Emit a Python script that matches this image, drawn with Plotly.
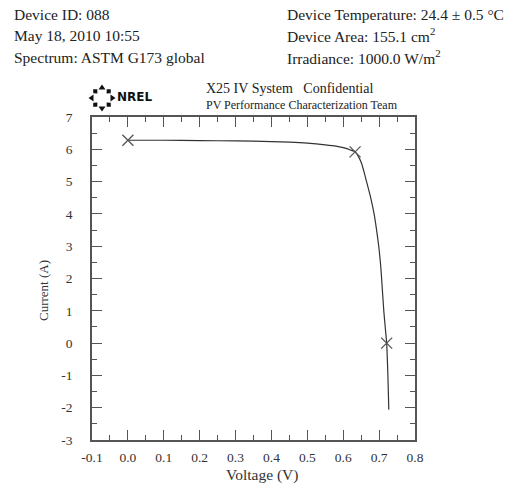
import math
import plotly.graph_objects as go

# ---- data ----
voltage = [0.000, 0.100, 0.200, 0.300, 0.400, 0.450, 0.500, 0.550, 0.580, 0.600,
           0.620, 0.633, 0.645, 0.651, 0.658, 0.665, 0.676, 0.686, 0.693, 0.699,
           0.704, 0.707, 0.713, 0.717, 0.721, 0.7245, 0.727]
current = [6.28, 6.28, 6.27, 6.26, 6.24, 6.22, 6.19, 6.14, 6.10, 6.05,
           5.98, 5.92, 5.72, 5.57, 5.30, 5.00, 4.53, 4.00, 3.50, 3.00,
           2.45, 2.00, 1.00, 0.50, 0.00, -1.00, -2.06]
key_v = [0.000, 0.633, 0.721]   # Isc, Pmax, Voc
key_i = [6.28, 5.92, 0.00]

x_ticks = [-0.1, 0.0, 0.1, 0.2, 0.3, 0.4, 0.5, 0.6, 0.7, 0.8]
y_ticks = [-3, -2, -1, 0, 1, 2, 3, 4, 5, 6, 7]
x_labels = [f"{v:.1f}" for v in x_ticks]
y_labels = [f"{v:d}" for v in y_ticks]

header_left = ["Device ID: 088", "May 18, 2010 10:55", "Spectrum: ASTM G173 global"]
header_right = ["Device Temperature: 24.4 \u00b1 0.5 \u00b0C",
                "Device Area: 155.1 cm<sup>2</sup>",
                "Irradiance: 1000.0 W/m<sup>2</sup>"]

W, H = 508, 487
L, R, T, B = 92, 415, 117, 440
PW, PH = R - L, B - T


def px(xp):
    return (xp - L) / PW


def py(yp):
    return (B - yp) / PH


SERIF = "Liberation Serif, Times New Roman, serif"
AX = "#555555"
TXT = "#333333"

fig = go.Figure()
fig.add_trace(go.Scatter(x=voltage, y=current, mode="lines",
                         line=dict(color="#333333", width=1.2, shape="spline", smoothing=0.5),
                         hoverinfo="skip", showlegend=False))
fig.add_trace(go.Scatter(x=key_v, y=key_i, mode="markers",
                         marker=dict(symbol="x-thin-open", size=11, color="#555555",
                                     line=dict(color="#555555", width=1.3)),
                         showlegend=False))
# invisible trace to activate the mirrored (top/right) tick axes
fig.add_trace(go.Scatter(x=[key_v[0]], y=[key_i[0]], xaxis="x2", yaxis="y2",
                         mode="markers", marker=dict(opacity=0), hoverinfo="skip",
                         showlegend=False))

tick_common = dict(ticks="inside", ticklen=10, tickwidth=1.3, tickcolor=AX,
                   showgrid=False, zeroline=False)

fig.update_layout(
    xaxis=dict(range=[-0.1, 0.8], tickvals=x_ticks, ticktext=x_labels,
               showline=True, linecolor=AX, linewidth=1.5, mirror=True,
               minor=dict(dtick=0.05, ticks="inside", ticklen=5, tickcolor=AX, tickwidth=1.3),
               ticklabelstandoff=4,
               tickfont=dict(family=SERIF, size=13.5, color=TXT), **tick_common),
    yaxis=dict(range=[-3, 7], tickvals=y_ticks, ticktext=y_labels,
               showline=True, linecolor=AX, linewidth=1.5, mirror=True,
               minor=dict(dtick=0.5, ticks="inside", ticklen=5, tickcolor=AX, tickwidth=1.3),
               ticklabelstandoff=15,
               tickfont=dict(family=SERIF, size=13.5, color=TXT), **tick_common),
    xaxis2=dict(range=[-0.1, 0.8], overlaying="x", side="top", tickvals=x_ticks,
                showticklabels=False, showline=False,
                minor=dict(dtick=0.05, ticks="inside", ticklen=5, tickcolor=AX, tickwidth=1.3),
                **tick_common),
    yaxis2=dict(range=[-3, 7], overlaying="y", side="right", tickvals=y_ticks,
                showticklabels=False, showline=False,
                minor=dict(dtick=0.5, ticks="inside", ticklen=5, tickcolor=AX, tickwidth=1.3),
                **tick_common),
)

ann = []
ann.append(dict(text="Current (A)", x=px(43), y=py(291), textangle=-90,
                font=dict(family=SERIF, size=13, color=TXT)))
ann.append(dict(text="Voltage (V)", x=px(262), y=py(475),
                font=dict(family=SERIF, size=15.5, color=TXT)))
rows = [14, 35.5, 57]
for i, t in enumerate(header_left):
    ann.append(dict(text=t, x=px(12), y=py(rows[i]), xanchor="left",
                    font=dict(family=SERIF, size=15.5, color="#222222")))
for i, t in enumerate(header_right):
    ann.append(dict(text=t, x=px(285), y=py(rows[i]), xanchor="left",
                    font=dict(family=SERIF, size=15.5, color="#222222")))
ann.append(dict(text="X25 IV System   Confidential", x=px(204), y=py(88.5), xanchor="left",
                font=dict(family=SERIF, size=14, color="#222222")))
ann.append(dict(text="PV Performance Characterization Team", x=px(204), y=py(105),
                xanchor="left", font=dict(family=SERIF, size=12, color="#222222")))
ann.append(dict(text="<b>NREL</b>", x=px(115), y=py(97.5), xanchor="left",
                font=dict(family="DejaVu Sans, sans-serif", size=12, color="#111111")))
for a in ann:
    a.update(xref="paper", yref="paper", showarrow=False, yanchor="middle")
    a.setdefault("xanchor", "center")

# NREL sun logo: ring of small black pieces (decoration)
shapes = []
cx, cy, r = 102, 98, 9.5
for k in range(8):
    ang = k * math.pi / 4
    ux, uy = math.cos(ang), -math.sin(ang)
    vx, vy = -uy, ux
    if k % 2 == 0:   # arrow heads pointing outward
        pts = [(cx + ux * (r + 4), cy + uy * (r + 4)),
               (cx + ux * (r - 1) + vx * 3.5, cy + uy * (r - 1) + vy * 3.5),
               (cx + ux * (r - 1) - vx * 3.5, cy + uy * (r - 1) - vy * 3.5)]
    else:            # diamonds
        pts = [(cx + ux * (r + 3), cy + uy * (r + 3)),
               (cx + ux * r + vx * 2.8, cy + uy * r + vy * 2.8),
               (cx + ux * (r - 3), cy + uy * (r - 3)),
               (cx + ux * r - vx * 2.8, cy + uy * r - vy * 2.8)]
    path = "M " + " L ".join(f"{px(a):.5f},{py(b):.5f}" for a, b in pts) + " Z"
    shapes.append(dict(type="path", path=path, xref="paper", yref="paper",
                       fillcolor="#111111", line=dict(width=0)))

fig.update_layout(width=W, height=H, margin=dict(l=L, r=W - R, t=T, b=H - B),
                  paper_bgcolor="white", plot_bgcolor="white",
                  annotations=ann, shapes=shapes, showlegend=False)

fig.write_html("out.html")
